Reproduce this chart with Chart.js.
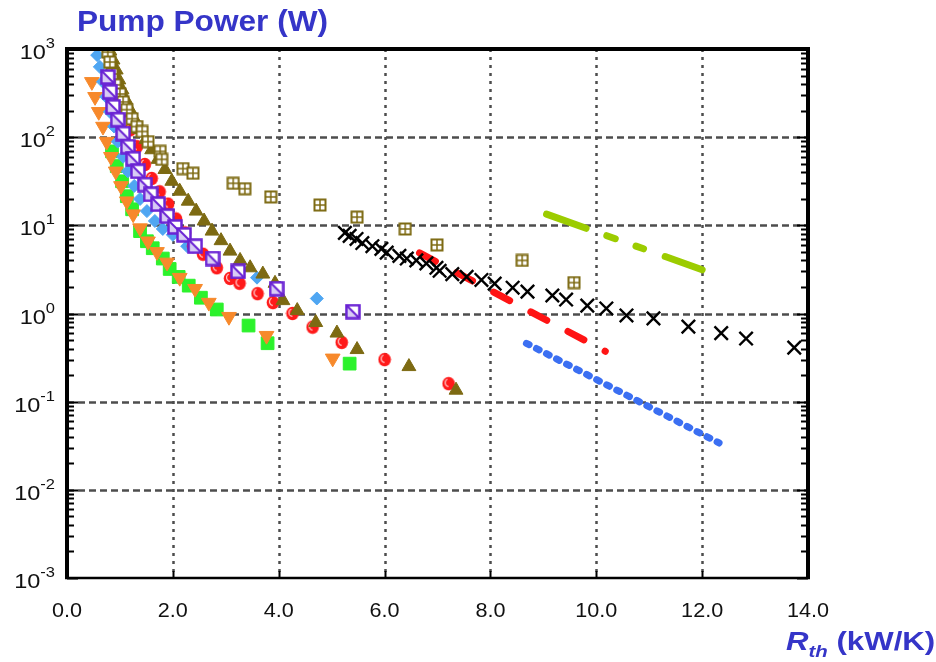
<!DOCTYPE html>
<html>
<head>
<meta charset="utf-8">
<script src="https://cdn.jsdelivr.net/npm/chart.js@4"></script>
<style>
  html, body { margin: 0; padding: 0; background: #fff; }
  #wrap { position: relative; width: 936px; height: 662px; }
</style>
</head>
<body>
<div id="wrap"><canvas id="pump-chart" width="936" height="662"></canvas></div>
<script>
// values: [Rth (kW/K), pump power (W)]
const plusSquares = [[0.77,923],[0.81,711],[0.85,521],[0.91,392],[1.0,309],[1.06,251],[1.13,205],[1.23,162],
  [1.32,132],[1.42,116],[1.53,89],[1.76,69],[1.79,56],[2.19,44],[2.38,39],[3.14,30],[3.36,26],[3.85,21],
  [4.78,17],[5.48,12.4],[6.39,9.1],[6.99,6.0],[8.6,4.0],[9.58,2.24]];
const oliveTriangles = [[0.81,950],[0.87,750],[0.93,578],[0.98,446],[1.04,344],[1.11,265],[1.19,205],[1.28,158],
  [1.38,122],[1.49,94],[1.6,72],[1.72,56],[1.85,43],[1.98,31.6],[2.13,24.4],[2.29,18.8],[2.44,14.5],[2.59,11.2],
  [2.74,8.6],[2.91,6.7],[3.08,5.1],[3.27,4.0],[3.46,3.3],[3.7,2.8],[3.93,2.2],[4.08,1.4],[4.35,1.08],
  [4.7,0.79],[5.1,0.6],[5.48,0.39],[6.46,0.25],[7.35,0.135]];
const purpleSquares = [[0.77,481],[0.81,327],[0.87,221],[0.96,158],[1.06,110],[1.15,78],[1.25,57],[1.34,41],
  [1.47,29],[1.58,22.5],[1.72,17.4],[1.89,12.7],[2.04,9.6],[2.21,7.8],[2.42,5.8],[2.75,4.2],[3.23,3.0],
  [3.96,1.91],[5.4,1.05]];
const redCircles = [[1.04,194],[1.19,121],[1.32,78],[1.47,49],[1.6,34],[1.75,24],[1.91,17.4],[2.06,11.8],
  [2.23,8.2],[2.38,5.8],[2.57,4.7],[2.83,3.3],[3.08,2.5],[3.26,2.2],[3.6,1.68],[3.89,1.33],[4.26,1.0],
  [4.64,0.7],[5.19,0.47],[6.0,0.3],[7.21,0.16]];
const blueDiamonds = [[0.57,852],[0.62,627],[0.68,424],[0.74,287],[0.81,194],[0.89,132],[0.96,89],[1.06,60],
  [1.15,41],[1.27,28],[1.38,19.9],[1.51,14.5],[1.66,11.2],[1.81,9.1],[2.0,7.8],[2.27,5.8],[3.59,2.55],[4.72,1.48]];
const orangeTriangles = [[0.47,424],[0.53,287],[0.6,194],[0.68,132],[0.75,89],[0.83,60],[0.92,41],[1.02,28],
  [1.13,18.8],[1.25,13.4],[1.38,9.3],[1.53,6.6],[1.7,5.0],[1.89,3.8],[2.13,2.55],[2.42,1.91],[2.68,1.33],
  [3.06,0.92],[3.77,0.56],[5.02,0.31]];
const greenSquares = [[0.85,69],[0.94,47],[1.04,31.6],[1.13,21.4],[1.23,15.2],[1.38,8.6],[1.51,6.6],[1.62,5.5],
  [1.81,4.2],[1.94,3.2],[2.11,2.6],[2.3,2.07],[2.53,1.51],[2.83,1.11],[3.43,0.73],[3.79,0.46],[5.34,0.27]];
const blackCrosses = [[5.25,8.2],[5.34,7.6],[5.47,7.0],[5.58,6.3],[5.77,5.8],[5.94,5.4],[6.04,4.9],[6.28,4.5],
  [6.42,4.2],[6.6,4.0],[6.79,3.7],[6.98,3.3],[7.04,3.05],[7.28,2.8],[7.55,2.6],[7.83,2.4],[8.08,2.18],
  [8.42,1.96],[8.7,1.77],[9.17,1.6],[9.43,1.44],[9.83,1.23],[10.19,1.14],[10.57,0.95],[11.08,0.88],
  [11.74,0.71],[12.36,0.6],[12.83,0.52],[13.74,0.41]];
const redLine = [[6.66,4.87],[10.17,0.373]];
const blueLine = [[8.68,0.459],[12.32,0.034]];
const greenLine = [[9.06,13.4],[12.0,3.13]];

const xTicks = [0, 2, 4, 6, 8, 10, 12, 14];
const yDecades = [-3, -2, -1, 0, 1, 2, 3];

const toPts = arr => arr.map(p => ({x: p[0], y: p[1]}));

// marker images
function makeCanvas(w, h, draw) {
  const c = document.createElement('canvas');
  c.width = w; c.height = h;
  draw(c.getContext('2d'));
  return c;
}
const plusSquareImg = makeCanvas(14, 14, g => {
  g.fillStyle = '#fff'; g.fillRect(1, 1, 12, 12);
  g.strokeStyle = '#7d6a12'; g.lineWidth = 2;
  g.strokeRect(1.5, 1.5, 11, 11);
  g.lineWidth = 1.5;
  g.beginPath(); g.moveTo(7, 2); g.lineTo(7, 12); g.moveTo(2, 7); g.lineTo(12, 7); g.stroke();
});
const diagSquareImg = makeCanvas(16, 16, g => {
  g.fillStyle = '#fff'; g.fillRect(1, 1, 14, 14);
  g.fillStyle = '#d9ccf5';
  g.beginPath(); g.moveTo(2, 2); g.lineTo(2, 14); g.lineTo(14, 14); g.closePath(); g.fill();
  g.strokeStyle = '#6a22d4'; g.lineWidth = 2.5;
  g.strokeRect(1.5, 1.5, 13, 13);
  g.lineWidth = 2;
  g.beginPath(); g.moveTo(2, 2); g.lineTo(14, 14); g.stroke();
});
const redBallImg = makeCanvas(14, 15, g => {
  g.fillStyle = '#ff1a1a';
  g.beginPath(); g.ellipse(7, 7.5, 6.3, 6.8, 0, 0, Math.PI * 2); g.fill();
  g.strokeStyle = '#ffd0d0'; g.lineWidth = 1.2;
  g.beginPath(); g.arc(7.5, 6.5, 4, Math.PI * 0.55, Math.PI * 1.35); g.stroke();
});

// text drawn a little wider than the font, like the original
function wideText(ctx, text, x, y, font, sx, align) {
  ctx.save();
  ctx.font = font;
  const w = ctx.measureText(text).width * sx;
  let left = x;
  if (align === 'center') left = x - w / 2;
  if (align === 'right') left = x - w;
  ctx.translate(left, y);
  ctx.scale(sx, 1);
  ctx.textAlign = 'left';
  ctx.fillText(text, 0, 0);
  ctx.restore();
  return w;
}

const decorPlugin = {
  id: 'decor',
  beforeDatasetsDraw(chart) {
    const {ctx, chartArea: a, scales: {x, y}} = chart;
    ctx.save();
    ctx.strokeStyle = '#4d4d4d';
    ctx.lineWidth = 2.5;
    ctx.setLineDash([7, 4]);
    yDecades.slice(1, -1).forEach(d => {
      const py = Math.round(y.getPixelForValue(Math.pow(10, d))) + 0.5;
      ctx.beginPath(); ctx.moveTo(a.left, py); ctx.lineTo(a.right, py); ctx.stroke();
    });
    ctx.setLineDash([3, 5]);
    xTicks.slice(1, -1).forEach(v => {
      const px = Math.round(x.getPixelForValue(v)) + 0.5;
      ctx.beginPath(); ctx.moveTo(px, a.top); ctx.lineTo(px, a.bottom); ctx.stroke();
    });
    ctx.restore();
  },
  afterDraw(chart) {
    const {ctx, chartArea: a, scales: {x, y}} = chart;
    ctx.save();
    ctx.setLineDash([]);
    ctx.strokeStyle = '#000';
    // minor / major ticks on left and right, pointing inwards
    ctx.lineWidth = 2;
    for (let d = -3; d < 3; d++) {
      for (let m = 1; m <= 9; m++) {
        const py = Math.round(y.getPixelForValue(m * Math.pow(10, d))) + 0.5;
        const len = m === 1 ? 11 : 7;
        ctx.beginPath();
        ctx.moveTo(a.left, py); ctx.lineTo(a.left + len, py);
        ctx.moveTo(a.right, py); ctx.lineTo(a.right - len, py);
        ctx.stroke();
      }
    }
    xTicks.forEach(v => {
      const px = Math.round(x.getPixelForValue(v)) + 0.5;
      ctx.beginPath(); ctx.moveTo(px, a.bottom); ctx.lineTo(px, a.bottom - 7); ctx.stroke();
    });
    // frame
    ctx.lineWidth = 4;
    ctx.beginPath();
    ctx.moveTo(a.left, a.bottom); ctx.lineTo(a.left, a.top); ctx.lineTo(a.right, a.top); ctx.lineTo(a.right, a.bottom);
    ctx.stroke();
    ctx.lineWidth = 2.5;
    ctx.beginPath(); ctx.moveTo(a.left - 2, a.bottom); ctx.lineTo(a.right + 2, a.bottom); ctx.stroke();

    // y labels 10^n
    ctx.fillStyle = '#111';
    ctx.textBaseline = 'alphabetic';
    const baseFont = '21px "Liberation Sans", Arial, sans-serif';
    const expFont = '15px "Liberation Sans", Arial, sans-serif';
    yDecades.forEach(d => {
      const py = y.getPixelForValue(Math.pow(10, d));
      const exp = String(d);
      ctx.font = expFont;
      const wExp = ctx.measureText(exp).width * 1.1;
      const right = 55;
      wideText(ctx, exp, right - wExp, py - 1, expFont, 1.1, 'left');
      wideText(ctx, '10', right - wExp, py + 10, baseFont, 1.12, 'right');
    });
    // x labels
    ctx.textBaseline = 'alphabetic';
    xTicks.forEach(v => {
      wideText(ctx, v.toFixed(1), x.getPixelForValue(v), 617, '20px "Liberation Sans", Arial, sans-serif', 1.08, 'center');
    });
    // titles
    ctx.fillStyle = '#3535c8';
    ctx.font = 'bold 29px "Liberation Sans", Arial, sans-serif';
    const tw = ctx.measureText('Pump Power (W)').width;
    wideText(ctx, 'Pump Power (W)', 77, 31, ctx.font, 251 / tw, 'left');
    const sx = 1.2;
    let tx = 786;
    tx += wideText(ctx, 'R', tx, 650, 'italic bold 26px "Liberation Sans", Arial, sans-serif', sx, 'left');
    tx += wideText(ctx, 'th', tx, 657, 'italic bold 17px "Liberation Sans", Arial, sans-serif', sx, 'left');
    wideText(ctx, ' (kW/K)', tx, 650, 'bold 26px "Liberation Sans", Arial, sans-serif', sx, 'left');
    ctx.restore();
  }
};

const ctx = document.getElementById('pump-chart').getContext('2d');
const chart = new Chart(ctx, {
  type: 'scatter',
  plugins: [decorPlugin],
  data: {
    datasets: [
      { label: 'purple', data: toPts(purpleSquares), pointStyle: diagSquareImg },
      { label: 'plus', data: toPts(plusSquares), pointStyle: plusSquareImg },
      { label: 'olive', data: toPts(oliveTriangles), pointStyle: 'triangle', pointRadius: 8,
        backgroundColor: '#7d6a12', borderColor: '#7d6a12', borderWidth: 1 },
      { label: 'red', data: toPts(redCircles), pointStyle: redBallImg },
      { label: 'blue', data: toPts(blueDiamonds), pointStyle: 'rectRot', pointRadius: 6.5,
        backgroundColor: '#4fa6f2', borderColor: '#4fa6f2', borderWidth: 1 },
      { label: 'orange', data: toPts(orangeTriangles), pointStyle: 'triangle', rotation: 180, pointRadius: 8.5,
        backgroundColor: '#f7892b', borderColor: '#f7892b', borderWidth: 1 },
      { label: 'green', data: toPts(greenSquares), pointStyle: 'rect', pointRadius: 9,
        backgroundColor: '#2cf22c', borderColor: '#2cf22c', borderWidth: 1 },
      { label: 'cross', data: toPts(blackCrosses), pointStyle: 'crossRot', pointRadius: 9.5,
        borderColor: '#000', borderWidth: 2.4 },
      { label: 'redLine', data: toPts(redLine), showLine: true, pointRadius: 0,
        borderColor: '#ff1414', borderWidth: 7, borderDash: [18, 24], borderCapStyle: 'round' },
      { label: 'blueLine', data: toPts(blueLine), showLine: true, pointRadius: 0,
        borderColor: '#3b6ff2', borderWidth: 7, borderDash: [3, 8.3], borderCapStyle: 'round' },
      { label: 'greenLine', data: toPts(greenLine), showLine: true, pointRadius: 0,
        borderColor: '#9ccc00', borderWidth: 7, borderDash: [42, 22, 9, 22, 8, 23], borderCapStyle: 'round' }
    ]
  },
  options: {
    responsive: false,
    animation: false,
    layout: { padding: { left: 67, right: 128, top: 49, bottom: 84 } },
    plugins: { legend: { display: false }, tooltip: { enabled: false } },
    scales: {
      x: {
        type: 'linear', min: 0, max: 14,
        ticks: { display: false },
        grid: { display: false, drawTicks: false },
        border: { display: false }
      },
      y: {
        type: 'logarithmic', min: 0.001, max: 1000,
        ticks: { display: false },
        grid: { display: false, drawTicks: false },
        border: { display: false }
      }
    }
  }
});
</script>
</body>
</html>
